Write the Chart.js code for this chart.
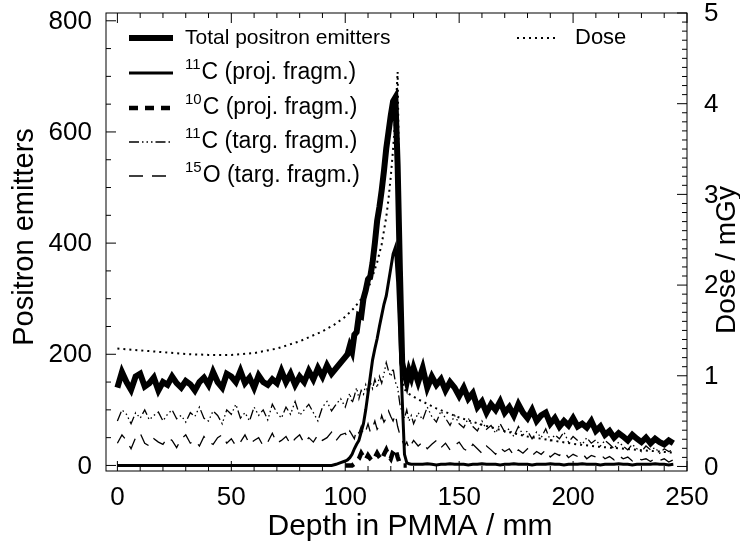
<!DOCTYPE html>
<html>
<head>
<meta charset="utf-8">
<script src="https://cdn.jsdelivr.net/npm/chart.js@4.4.0/dist/chart.umd.min.js"></script>
<style>
  html, body { margin: 0; padding: 0; background: #fff; }
</style>
</head>
<body>
<canvas id="chart" width="740" height="544"></canvas>
<script>
// depth grid (mm) for the emitter profiles, finer around the Bragg peak
const depth = [
  0, 2, 4, 6, 8, 10, 12, 14, 16, 18, 20, 22, 24, 26, 28, 30, 32, 34, 36, 38,
  40, 42, 44, 46, 48, 50, 52, 54, 56, 58, 60, 62, 64, 66, 68, 70, 72, 74, 76, 78,
  80, 82, 84, 86, 88, 90, 92, 94, 96, 98, 100,
  101, 102, 103, 104, 105, 106, 107, 108, 109, 110, 111, 112, 113, 114, 115,
  116, 117, 118, 119, 120, 121, 122, 123, 124, 125, 126, 127, 128, 129, 130,
  132, 134, 136, 138, 140, 142, 144, 146, 148, 150, 152, 154, 156, 158, 160,
  162, 164, 166, 168, 170, 172, 174, 176, 178, 180, 182, 184, 186, 188, 190,
  192, 194, 196, 198, 200, 202, 204, 206, 208, 210, 212, 214, 216, 218, 220,
  222, 224, 226, 228, 230, 232, 234, 236, 238, 240, 242, 244
];

const totalEmitters = [
  140, 168, 150, 136, 160, 165, 142, 148, 158, 135, 150, 145, 160, 148, 140, 152, 146, 135, 150, 158,
  145, 168, 150, 140, 165, 160, 150, 170, 148, 158, 140, 162, 150, 145, 155, 148, 170, 150, 165, 145,
  160, 150, 170, 155, 175, 160, 180, 165, 175, 185, 195,
  200, 215, 205, 235, 240, 270, 268, 300, 315, 335, 340, 365, 400, 440, 465,
  495, 530, 570, 600, 630, 655, 662, 540, 350, 185, 165, 150, 170, 158, 175,
  150, 175, 140, 160, 145, 155, 135, 150, 140, 125, 140, 120, 130, 105, 115,
  95, 110, 100, 115, 95, 105, 90, 110, 95, 85, 100, 80, 90, 95, 75,
  85, 70, 80, 72, 85, 70, 75, 68, 80, 62, 70, 55, 62, 50, 58,
  52, 45, 55, 48, 42, 50, 40, 48, 42, 38, 45, 40
];

const c11Proj = [
  0, 0, 0, 0, 0, 0, 0, 0, 0, 0, 0, 0, 0, 0, 0, 0, 0, 0, 0, 0,
  0, 0, 0, 0, 0, 0, 0, 0, 0, 0, 0, 0, 0, 0, 0, 0, 0, 0, 0, 0,
  0, 0, 0, 0, 0, 0, 0, 0, 2, 5, 8,
  10, 14, 20, 30, 38, 45, 60, 75, 100, 130, 160, 190, 210, 228, 250,
  270, 290, 305, 330, 355, 380, 392, 330, 230, 120, 20, 5, 3, 2, 2,
  2, 2, 3, 2, 1, 2, 2, 3, 2, 2, 2, 1, 2, 2, 3,
  2, 2, 2, 1, 2, 2, 3, 2, 2, 2, 1, 2, 2, 2, 3,
  2, 2, 1, 2, 2, 2, 3, 2, 2, 2, 1, 2, 2, 2, 3,
  2, 2, 1, 2, 2, 2, 2, 3, 2, 2, 1, 2
];

// 10C only shows up around the peak
const c10Depth = [
  100, 101, 102, 103, 104, 105, 106, 107, 108, 109, 110, 111, 112, 113,
  114, 115, 116, 117, 118, 119, 120, 121, 122, 123, 124, 125, 126, 127
];
const c10Proj = [
  0, 0, 0, 0, 3, 8, 12, 22, 15, 10, 18, 12, 8, 14,
  22, 15, 10, 20, 28, 18, 12, 25, 30, 15, 3, 0, 0, 0
];

const c11Targ = [
  80, 100, 92, 75, 95, 85, 100, 82, 90, 96, 80, 92, 100, 84, 90, 78, 95, 88, 105, 85,
  80, 98, 90, 75, 100, 92, 110, 85, 95, 80, 105, 90, 100, 82, 110, 95, 85, 105, 92, 115,
  90, 100, 110, 95, 80, 105, 115, 98, 110, 120, 105,
  118, 130, 112, 125, 140, 120, 135, 128, 145, 130, 150, 138, 155, 140, 160,
  148, 165, 185, 170, 160, 175, 150, 140, 110, 95, 85, 100, 80, 90, 75,
  95, 82, 105, 88, 78, 98, 85, 72, 90, 75, 68, 85, 70, 62, 80,
  65, 72, 58, 75, 60, 66, 52, 70, 55, 62, 48, 60, 50, 66, 45,
  55, 48, 60, 42, 52, 45, 38, 50, 40, 46, 35, 45, 38, 30, 42,
  35, 28, 38, 30, 25, 35, 28, 32, 22, 30, 25, 28
];

const o15Targ = [
  40, 55, 45, 30, 50, 58, 40, 35, 48, 42, 38, 50, 45, 32, 48, 55, 40, 45, 35, 52,
  42, 38, 50, 55, 40, 48, 35, 42, 55, 38, 45, 50, 35, 42, 58, 40, 45, 52, 38, 48,
  55, 40, 50, 42, 55, 45, 50, 60, 45, 55, 58,
  50, 62, 55, 48, 65, 58, 70, 55, 62, 75, 60, 68, 80, 65, 72,
  90, 78, 85, 98, 88, 80, 92, 70, 55, 45, 35, 42, 30, 38, 45,
  35, 42, 30, 38, 45, 32, 40, 28, 36, 42, 30, 25, 38, 30, 22,
  35, 28, 20, 32, 25, 30, 18, 28, 22, 30, 18, 25, 20, 28, 15,
  22, 18, 25, 14, 20, 16, 22, 12, 18, 15, 20, 12, 16, 10, 18,
  12, 15, 8, 14, 10, 12, 7, 13, 9, 12, 6, 10
];

// dose profile (mGy), right axis
const doseDepth = [
  0, 10, 20, 30, 40, 50, 60, 70, 80, 90, 95, 100, 104, 108, 111, 114, 116, 118, 119, 120,
  121, 122, 123, 124.5, 125, 126, 128, 132, 140, 150, 160, 170, 180, 190, 200, 210, 220, 230, 240, 245
];
const dose = [
  1.30, 1.28, 1.26, 1.24, 1.23, 1.23, 1.25, 1.30, 1.38, 1.49, 1.56, 1.65, 1.75, 1.88, 2.02, 2.25, 2.45, 2.75, 2.95, 3.2,
  3.5, 3.85, 4.35, 1.5, 0.95, 0.85, 0.80, 0.74, 0.64, 0.54, 0.46, 0.39, 0.33, 0.29, 0.25, 0.22, 0.2, 0.18, 0.16, 0.15
];

const xTicks = [0, 50, 100, 150, 200, 250];
const yTicks = [0, 200, 400, 600, 800];
const doseTicks = [0, 1, 2, 3, 4, 5];

const legendSup = ['', '11', '10', '11', '15'];
const legendText = ['Total positron emitters', 'C (proj. fragm.)', 'C (proj. fragm.)', 'C (targ. fragm.)', 'O (targ. fragm.)'];

const FONT = "'Liberation Sans', Arial, Helvetica, sans-serif";

function pts(xs, ys) {
  return xs.map((x, i) => ({ x: x, y: ys[i] }));
}

// line styles shared by the plot and the legend
const styles = [
  { width: 6, dash: [], font: 21 },
  { width: 3, dash: [], font: 23 },
  { width: 4.5, dash: [9, 7], font: 23 },
  { width: 1.3, dash: [10, 3, 1.5, 3, 1.5, 3, 1.5, 3], font: 23 },
  { width: 1.3, dash: [14, 9], font: 23 }
];
const doseStyle = { width: 2, dash: [2, 4] };

const series = [
  [depth, totalEmitters], [depth, c11Proj], [c10Depth, c10Proj], [depth, c11Targ], [depth, o15Targ]
];
const datasets = series.map((s, i) => ({
  label: legendSup[i] + legendText[i],
  data: pts(s[0], s[1]),
  yAxisID: 'y',
  borderColor: '#000',
  borderWidth: styles[i].width,
  borderDash: styles[i].dash,
  pointRadius: 0,
  tension: 0
}));
datasets.push({
  label: 'Dose',
  data: pts(doseDepth, dose),
  yAxisID: 'y2',
  borderColor: '#000',
  borderWidth: doseStyle.width,
  borderDash: doseStyle.dash,
  pointRadius: 0,
  tension: 0
});

// fixed box sizes so the plot frame lands where the original has it
function fixBox(w, h) {
  return s => {
    if (w) s.width = w;
    if (h) s.height = h;
    s.paddingTop = 0;
    s.paddingBottom = 0;
    s.paddingLeft = 0;
    s.paddingRight = 0;
  };
}

// frame with inward ticks, legend and axis titles
const decorations = {
  id: 'decorations',
  afterDraw(chart) {
    const { ctx, chartArea: a, scales } = chart;
    ctx.save();
    ctx.strokeStyle = '#000';
    ctx.lineWidth = 1;
    ctx.setLineDash([]);
    ctx.strokeRect(a.left, a.top, a.right - a.left, a.bottom - a.top);
    const seg = (x1, y1, x2, y2) => { ctx.beginPath(); ctx.moveTo(x1, y1); ctx.lineTo(x2, y2); ctx.stroke(); };
    for (let v = 0; v <= 250; v += 10) {
      const px = scales.x.getPixelForValue(v);
      const len = v % 50 === 0 ? 10 : 5;
      seg(px, a.bottom, px, a.bottom - len);
      seg(px, a.top, px, a.top + len);
    }
    for (let v = 0; v <= 800; v += 50) {
      const py = scales.y.getPixelForValue(v);
      seg(a.left, py, a.left + (v % 200 === 0 ? 10 : 5), py);
    }
    for (let i = 0; i <= 50; i++) {
      const py = scales.y2.getPixelForValue(i / 10);
      seg(a.right, py, a.right - (i % 10 === 0 ? 10 : 5), py);
    }

    // legend
    ctx.fillStyle = '#000';
    ctx.textBaseline = 'middle';
    ctx.textAlign = 'left';
    const rowY = [38, 73, 108, 142, 176];
    legendText.forEach((t, i) => {
      const y = rowY[i];
      ctx.lineWidth = styles[i].width;
      ctx.setLineDash(styles[i].dash);
      seg(129, y, 173, y);
      ctx.setLineDash([]);
      let x = 185;
      if (legendSup[i]) {
        ctx.font = '15px ' + FONT;
        ctx.fillText(legendSup[i], x, y - 8);
        x += ctx.measureText(legendSup[i]).width + 1;
      }
      ctx.font = styles[i].font + 'px ' + FONT;
      ctx.fillText(t, x, y);
    });
    ctx.lineWidth = doseStyle.width;
    ctx.setLineDash(doseStyle.dash);
    seg(517, 38, 558, 38);
    ctx.setLineDash([]);
    ctx.font = '22px ' + FONT;
    ctx.fillText('Dose', 575, 38);

    // axis titles
    ctx.textBaseline = 'alphabetic';
    ctx.textAlign = 'center';
    ctx.font = '30px ' + FONT;
    ctx.fillText('Depth in PMMA / mm', 410, 535);
    ctx.save();
    ctx.translate(33, 237);
    ctx.rotate(-Math.PI / 2);
    ctx.font = '29px ' + FONT;
    ctx.fillText('Positron emitters', 0, 0);
    ctx.restore();
    ctx.translate(735, 260);
    ctx.rotate(-Math.PI / 2);
    ctx.font = '28px ' + FONT;
    ctx.fillText('Dose / mGy', 0, 0);
    ctx.restore();
  }
};

new Chart(document.getElementById('chart'), {
  type: 'line',
  data: { datasets: datasets },
  plugins: [decorations],
  options: {
    responsive: false,
    animation: false,
    layout: { padding: { top: 13, left: 0, right: 0, bottom: 0 } },
    plugins: { legend: { display: false }, tooltip: { enabled: false } },
    scales: {
      x: {
        type: 'linear',
        position: 'bottom',
        min: -5,
        max: 250,
        afterBuildTicks: s => { s.ticks = xTicks.map(v => ({ value: v })); },
        afterFit: fixBox(0, 73),
        grid: { display: false },
        border: { display: false },
        ticks: { color: '#000', padding: 3, maxRotation: 0, font: { family: FONT, size: 26 } }
      },
      y: {
        type: 'linear',
        position: 'left',
        min: -10,
        max: 814,
        afterBuildTicks: s => { s.ticks = yTicks.map(v => ({ value: v })); },
        afterFit: fixBox(106, 0),
        grid: { display: false },
        border: { display: false },
        ticks: { color: '#000', padding: 6, labelOffset: 1, font: { family: FONT, size: 26 } }
      },
      y2: {
        type: 'linear',
        position: 'right',
        min: -0.05,
        max: 5,
        afterBuildTicks: s => { s.ticks = doseTicks.map(v => ({ value: v })); },
        afterFit: fixBox(53, 0),
        grid: { display: false },
        border: { display: false },
        ticks: { color: '#000', padding: 9, labelOffset: 1, font: { family: FONT, size: 26 } }
      }
    }
  }
});
</script>
</body>
</html>
